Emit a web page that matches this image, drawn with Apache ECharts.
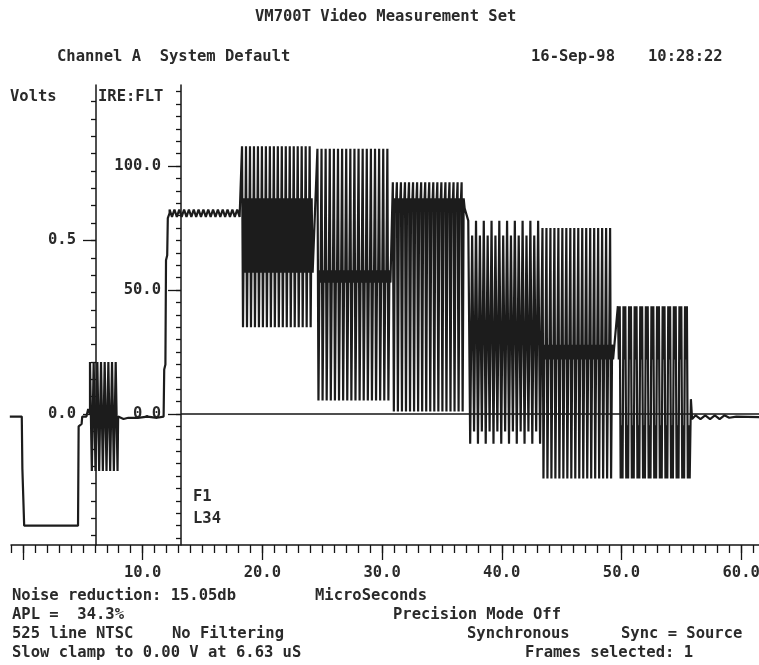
<!DOCTYPE html>
<html>
<head>
<meta charset="utf-8">
<title>VM700T Video Measurement Set</title>
<script src="https://cdn.jsdelivr.net/npm/echarts@6.0.0/dist/echarts.min.js"></script>
<style>
  html, body { margin: 0; padding: 0; background: #fff; }
  #chart { width: 759px; height: 665px; }
</style>
</head>
<body>
<div id="chart"></div>
<script>
// axis ranges (microseconds / IRE), volts = IRE * 0.00714
const X_MIN = -1.0
const X_MAX = 61.49
const IRE_MIN = -52.8
const IRE_MAX = 132.7
const VOLTS_PER_IRE = 0.714 / 100

// tick labels
const xLabels = [10, 20, 30, 40, 50, 60]
const xMajorTicks = [0, 10, 20, 30, 40, 50, 60]
const ireLabels = [0, 50, 100]
const voltLabels = [0, 0.5]

// sync tip, breezeway before the burst
const syncTrace = [
  [-1.1, -1], [-0.1, -1], [-0.05, -22], [0.05, -22], [0.1, -45],
  [4.6, -45], [4.65, -5], [4.9, -4], [4.95, -1], [5.3, -1], [5.45, 2], [5.6, 0]
]
// back porch and rise to the white flag
const porchTrace = [
  [7.95, -1], [8.4, -2], [8.8, -1.5], [9.6, -1.5], [10.4, -1], [11.2, -1.5],
  [11.75, -1], [11.8, 18], [11.9, 20], [11.95, 62], [12.05, 64], [12.1, 79], [12.25, 81]
]
// end of the line after the last packet
const tailTrace = [
  [55.8, 6], [55.9, -2], [56.2, -0.5], [56.6, -2], [57.0, -0.5], [57.4, -2],
  [57.8, -0.5], [58.2, -2], [58.6, -0.5], [59.0, -1.5], [59.6, -1], [61.5, -1.2]
]

// oscillating parts: colour burst, flag ripple, six multiburst packets
const packetStart = [5.6, 12.25, 18.3, 24.6, 30.9, 37.2, 43.4, 49.7]
const packetEnd = [7.9, 18.1, 24.2, 30.7, 36.9, 43.2, 49.3, 55.7]
const packetTop = [21, 82.5, 108, 107, 93.5, 78, 75, 43.5]
const packetBottom = [-23, 79.5, 35, 5.5, 1, -12, -26, -26]
const packetInnerTop = [21, 82.5, 87, 58, 87, 72, 28, 22]
const packetInnerBottom = [-23, 79.5, 57, 53, 83, -7, 22, -4.5]
const packetPoints = [16, 30, 72, 72, 72, 38, 72, 78]
// stroke order inside a packet (t = top, b = bottom, T = inner top, B = inner bottom)
const packetPattern = ['tb', 'tb', 'tbTB', 'tbTB', 'tbTB', 'tbTB', 'tbTB', 'tTtbBb']

// 0 IRE reference line from the IRE scale to the right edge
const zeroLine = [[13.2, 0], [61.49, 0]]

function range(a, b, step) {
  const out = []
  for (let v = a; v <= b + 1e-9; v += step) out.push(+v.toFixed(4))
  return out
}

function packetTrace(i) {
  const lv = { t: packetTop[i], b: packetBottom[i], T: packetInnerTop[i], B: packetInnerBottom[i] }
  const pattern = packetPattern[i]
  const n = packetPoints[i]
  const pts = []
  for (let k = 0; k < n; k++) {
    const t = packetStart[i] + (packetEnd[i] - packetStart[i]) * k / (n - 1)
    pts.push([t, lv[pattern[k % pattern.length]]])
  }
  return pts
}

const waveform = [].concat(
  syncTrace,
  packetTrace(0),
  porchTrace,
  packetTrace(1),
  packetTrace(2), packetTrace(3), packetTrace(4),
  packetTrace(5), packetTrace(6), packetTrace(7),
  tailTrace
)

const INK = '#151515'
const FONT = '"DejaVu Sans Mono", "Liberation Mono", monospace'
const FONT_SIZE = 15.5
const TEXT_INK = '#2a2a2a'
const labelStyle = { color: TEXT_INK, fontFamily: FONT, fontSize: FONT_SIZE, fontWeight: 'bold' }

const GRID_LEFT = 11
const GRID_WIDTH = 748
const pxPerUs = GRID_WIDTH / (X_MAX - X_MIN)
const voltAxisAt = 6.1   // µs where the Volts scale sits
const ireAxisAt = 13.2   // µs where the IRE scale sits

function xAxisCfg(ticks, tickLen, showLine, labels) {
  return {
    type: 'value', min: X_MIN, max: X_MAX, position: 'bottom',
    axisLine: { show: showLine, onZero: false, lineStyle: { color: INK, width: 1.5 } },
    axisTick: { show: true, customValues: ticks, length: tickLen, lineStyle: { color: INK, width: 1.3 } },
    axisLabel: labels
      ? Object.assign({ customValues: labels, margin: 20, formatter: v => v.toFixed(1) }, labelStyle)
      : { show: false },
    splitLine: { show: false }
  }
}

function yAxisCfg(min, max, at, ticks, tickLen, showLine, labels) {
  return {
    type: 'value', min: min, max: max, position: 'left',
    offset: -(at - X_MIN) * pxPerUs,
    axisLine: { show: showLine, onZero: false, lineStyle: { color: INK, width: 1.5 } },
    axisTick: { show: true, customValues: ticks, length: tickLen, lineStyle: { color: INK, width: 1.3 } },
    axisLabel: labels
      ? Object.assign({ customValues: labels, margin: 20, formatter: v => v.toFixed(1) }, labelStyle)
      : { show: false },
    splitLine: { show: false }
  }
}

function caption(text, x, y) {
  return {
    type: 'text', x: x, y: y, silent: true,
    style: { text: text, fill: TEXT_INK, font: 'bold ' + FONT_SIZE + 'px ' + FONT, align: 'left', verticalAlign: 'middle' }
  }
}

const chart = echarts.init(document.getElementById('chart'), null, { renderer: 'canvas' })

chart.setOption({
  animation: false,
  backgroundColor: '#fff',
  grid: { left: GRID_LEFT, width: GRID_WIDTH, top: 85, height: 460, outerBoundsMode: 'none', containLabel: false },
  xAxis: [
    xAxisCfg(range(-1, 61, 1), 8, true, xLabels),
    xAxisCfg(xMajorTicks, 15, false, null)
  ],
  yAxis: [
    yAxisCfg(IRE_MIN, IRE_MAX, ireAxisAt, range(-50, 130, 5), 5, true, ireLabels),
    yAxisCfg(IRE_MIN, IRE_MAX, ireAxisAt, ireLabels, 13, false, null),
    yAxisCfg(IRE_MIN * VOLTS_PER_IRE, IRE_MAX * VOLTS_PER_IRE, voltAxisAt, range(-0.35, 0.9, 0.05), 5, true, voltLabels),
    yAxisCfg(IRE_MIN * VOLTS_PER_IRE, IRE_MAX * VOLTS_PER_IRE, voltAxisAt, voltLabels, 13, false, null)
  ],
  series: [
    {
      name: 'zero', type: 'line', data: zeroLine, xAxisIndex: 0, yAxisIndex: 0,
      symbol: 'none', silent: true, lineStyle: { color: INK, width: 1.5 }
    },
    {
      name: 'signal', type: 'line', data: waveform, xAxisIndex: 0, yAxisIndex: 0,
      symbol: 'none', silent: true, sampling: null, lineStyle: { color: '#1c1c1c', width: 2.2 }
    }
  ],
  graphic: [
    caption('VM700T Video Measurement Set', 255, 17),
    caption('Channel A  System Default', 57, 57),
    caption('16-Sep-98', 531, 57),
    caption('10:28:22', 648, 57),
    caption('Volts', 10, 97),
    caption('IRE:FLT', 98, 97),
    caption('F1', 193, 497),
    caption('L34', 193, 519),
    caption('Noise reduction: 15.05db', 12, 596),
    caption('MicroSeconds', 315, 596),
    caption('APL =  34.3%', 12, 615),
    caption('Precision Mode Off', 393, 615),
    caption('525 line NTSC', 12, 634),
    caption('No Filtering', 172, 634),
    caption('Synchronous', 467, 634),
    caption('Sync = Source', 621, 634),
    caption('Slow clamp to 0.00 V at 6.63 uS', 12, 653),
    caption('Frames selected: 1', 525, 653)
  ]
})
</script>
</body>
</html>
